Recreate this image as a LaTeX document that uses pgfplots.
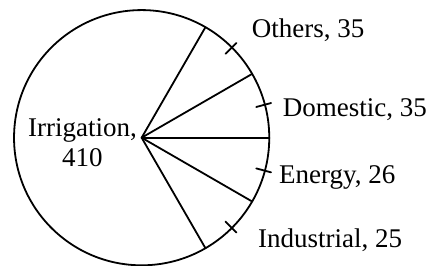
\documentclass[border=0pt]{standalone}
\usepackage{pgfplots}
\pgfplotsset{compat=1.18}
\usepackage{fontspec}
\setmainfont{Liberation Serif}
\begin{document}
\begin{tikzpicture}
\begin{axis}[
  x=127.6pt, y=127.6pt,
  xmin=-1.110, xmax=2.291, ymin=-1.005, ymax=1.079,
  hide axis, clip=false, scale only axis,
  pie/.style={black, line width=1.8pt, mark=none, line cap=round},
]
\path[use as bounding box] (axis cs:-1.110,-1.005) rectangle (axis cs:2.291,1.079);
\draw[black, line width=1.8pt] (axis cs:0,0) circle[radius=1];
% slice boundaries
\addplot[pie] coordinates {(0,0) (0.5,0.866)};
\addplot[pie] coordinates {(0,0) (0.866,0.5)};
\addplot[pie, line width=2.2pt] coordinates {(0,0) (1,0)};
\addplot[pie] coordinates {(0,0) (0.866,-0.5)};
\addplot[pie] coordinates {(0,0) (0.5,-0.866)};
% leader ticks
\addplot[pie] coordinates {(0.6576,0.6576) (0.7425,0.7425)};
\addplot[pie] coordinates {(0.8983,0.2407) (1.0142,0.2717)};
\addplot[pie] coordinates {(0.8983,-0.2407) (1.0142,-0.2717)};
\addplot[pie] coordinates {(0.6576,-0.6576) (0.7425,-0.7425)};
\begin{scope}[every node/.style={inner sep=0pt, font=\fontsize{27}{33}\selectfont}]
\node[anchor=base west] at (axis cs:0.862,0.784) {Others, 35};
\node[anchor=base west] at (axis cs:1.105,0.165) {Domestic, 35};
\node[anchor=base west] at (axis cs:1.076,-0.357) {Energy, 26};
\node[anchor=base west] at (axis cs:0.911,-0.859) {Industrial, 25};
\node[anchor=base] at (axis cs:-0.464,0.013) {Irrigation,};
\node[anchor=base] at (axis cs:-0.464,-0.227) {410};
\end{scope}
\end{axis}
\end{tikzpicture}
\end{document}
